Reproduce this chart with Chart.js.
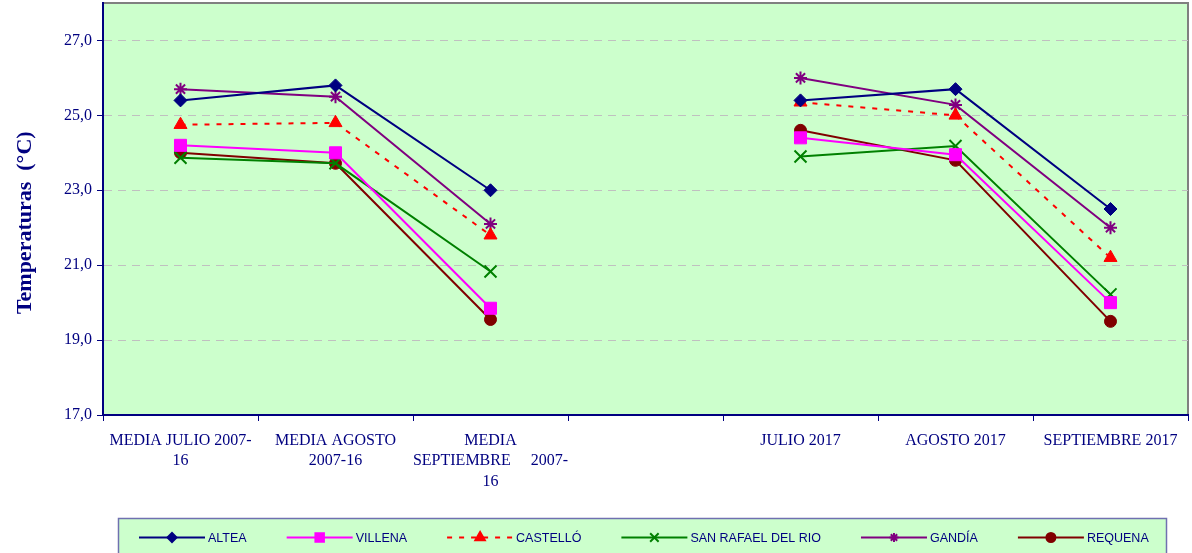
<!DOCTYPE html>
<html>
<head>
<meta charset="utf-8">
<script src="https://cdn.jsdelivr.net/npm/chart.js@4.4.0/dist/chart.umd.min.js"></script>
<style>
  body { margin: 0; background: #ffffff; }
</style>
</head>
<body>
<canvas id="grafico" width="1192" height="553"></canvas>
<script>
// categorias (la 4a queda vacia, separa medias 2007-16 de 2017)
const categorias = [
  ['MEDIA JULIO 2007-', '16'],
  ['MEDIA AGOSTO', '2007-16'],
  ['MEDIA', 'SEPTIEMBRE     2007-', '16'],
  '',
  'JULIO 2017',
  'AGOSTO 2017',
  'SEPTIEMBRE 2017'
];
const ticksY = [17, 19, 21, 23, 25, 27];

const altea     = [25.4, 25.8, 23.0, null, 25.4, 25.7, 22.5];
const villena   = [24.2, 24.0, 19.85, null, 24.4, 23.95, 20.0];
const castello  = [24.75, 24.8, 21.8, null, 25.35, 25.0, 21.2];
const sanRafael = [23.87, 23.72, 20.83, null, 23.9, 24.18, 20.22];
const gandia    = [25.7, 25.5, 22.1, null, 26.0, 25.28, 22.0];
const requena   = [24.0, 23.72, 19.55, null, 24.6, 23.8, 19.5];

function serie(nombre, datos, color, estilo, radio, radioLey, dash) {
  return {
    label: nombre,
    data: datos,
    borderColor: color,
    backgroundColor: color,
    borderWidth: 2,
    borderDash: dash || [],
    pointStyle: estilo,
    pointRadius: radio,
    radioLeyenda: radioLey,
    pointBorderWidth: estilo === 'crossRot' || estilo === 'star' ? 2 : 1,
    pointBackgroundColor: color,
    pointBorderColor: color,
    tension: 0,
    spanGaps: false
  };
}

const datasets = [
  serie('ALTEA', altea, '#000080', 'rectRot', 6.5, 4.5),
  serie('VILLENA', villena, '#FF00FF', 'rect', 8.5, 6),
  serie('CASTELLÓ', castello, '#FF0000', 'triangle', 7.5, 5.5, [5, 7]),
  serie('SAN RAFAEL DEL RIO', sanRafael, '#008000', 'crossRot', 8.5, 6),
  serie('GANDÍA', gandia, '#800080', 'star', 6.5, 4.5),
  serie('REQUENA', requena, '#800000', 'circle', 6, 4.5)
];

// fondo verde del area y borde gris arriba/derecha
const fondo = {
  id: 'fondo',
  beforeDraw(chart) {
    const a = chart.chartArea, ctx = chart.ctx;
    ctx.save();
    ctx.fillStyle = '#CCFFCC';
    ctx.fillRect(a.left, a.top, a.right - a.left, a.bottom - a.top);
    ctx.strokeStyle = '#808080';
    ctx.lineWidth = 2;
    ctx.beginPath();
    ctx.moveTo(a.left, a.top);
    ctx.lineTo(a.right, a.top);
    ctx.lineTo(a.right, a.bottom);
    ctx.stroke();
    ctx.restore();
  }
};

// leyenda con linea + marcador dentro de una caja
const leyenda = {
  id: 'leyenda',
  afterDraw(chart) {
    const ctx = chart.ctx;
    const y = 537.5;
    ctx.save();
    ctx.fillStyle = '#CCFFCC';
    ctx.fillRect(118, 518, 1048, 40);
    ctx.strokeStyle = '#7070B0';
    ctx.lineWidth = 1.5;
    ctx.strokeRect(118.5, 518.5, 1048, 40);
    ctx.font = '12.5px "Liberation Sans", Arial, sans-serif';
    ctx.textBaseline = 'middle';
    let x = 139;
    chart.data.datasets.forEach(ds => {
      ctx.strokeStyle = ds.borderColor;
      ctx.fillStyle = ds.borderColor;
      ctx.lineWidth = 2;
      ctx.setLineDash(ds.borderDash.length ? [5, 7] : []);
      ctx.beginPath();
      ctx.moveTo(x, y);
      ctx.lineTo(x + 66, y);
      ctx.stroke();
      ctx.setLineDash([]);
      Chart.helpers.drawPoint(ctx, {
        pointStyle: ds.pointStyle,
        radius: ds.radioLeyenda,
        rotation: 0,
        borderWidth: ds.pointBorderWidth
      }, x + 33, y);
      ctx.fillStyle = '#000080';
      ctx.fillText(ds.label, x + 69, y + 1);
      x += 69 + ctx.measureText(ds.label).width + 40;
    });
    ctx.restore();
  }
};

new Chart(document.getElementById('grafico'), {
  type: 'line',
  data: { labels: categorias, datasets: datasets },
  plugins: [fondo, leyenda],
  options: {
    responsive: false,
    animation: false,
    layout: { autoPadding: false, padding: { top: 3, right: 4, bottom: 38, left: 0 } },
    plugins: {
      legend: { display: false },
      tooltip: { enabled: false }
    },
    scales: {
      x: {
        offset: true,
        afterFit: s => { s.height = 100; s.paddingLeft = 0; s.paddingRight = 0; },
        grid: {
          offset: true,
          drawOnChartArea: false,
          drawTicks: true,
          tickLength: 6,
          tickColor: '#000080'
        },
        border: { color: '#000080', width: 2 },
        ticks: {
          color: '#000080',
          padding: 9,
          maxRotation: 0,
          autoSkip: false,
          font: { family: '"Liberation Serif", "Times New Roman", serif', size: 16, lineHeight: 1.3 }
        }
      },
      y: {
        min: 17,
        max: 28,
        afterFit: s => { s.width = 103; s.paddingTop = 0; s.paddingBottom = 0; },
        afterBuildTicks: s => { s.ticks = ticksY.map(v => ({ value: v })); },
        grid: {
          color: '#C0C0C0',
          tickColor: '#000080',
          tickLength: 6,
          drawTicks: true
        },
        border: { color: '#000080', width: 2, dash: [8, 6] },
        ticks: {
          color: '#000080',
          padding: 5,
          callback: v => v.toFixed(1).replace('.', ','),
          font: { family: '"Liberation Serif", "Times New Roman", serif', size: 16 }
        },
        title: {
          display: true,
          // espacios al final para bajar el texto como en el original
          text: 'Temperaturas  (°C)     ',
          color: '#000080',
          padding: { top: 12, bottom: 0 },
          font: { family: '"Liberation Serif", "Times New Roman", serif', size: 22, weight: 'bold' }
        }
      }
    }
  }
});
</script>
</body>
</html>
